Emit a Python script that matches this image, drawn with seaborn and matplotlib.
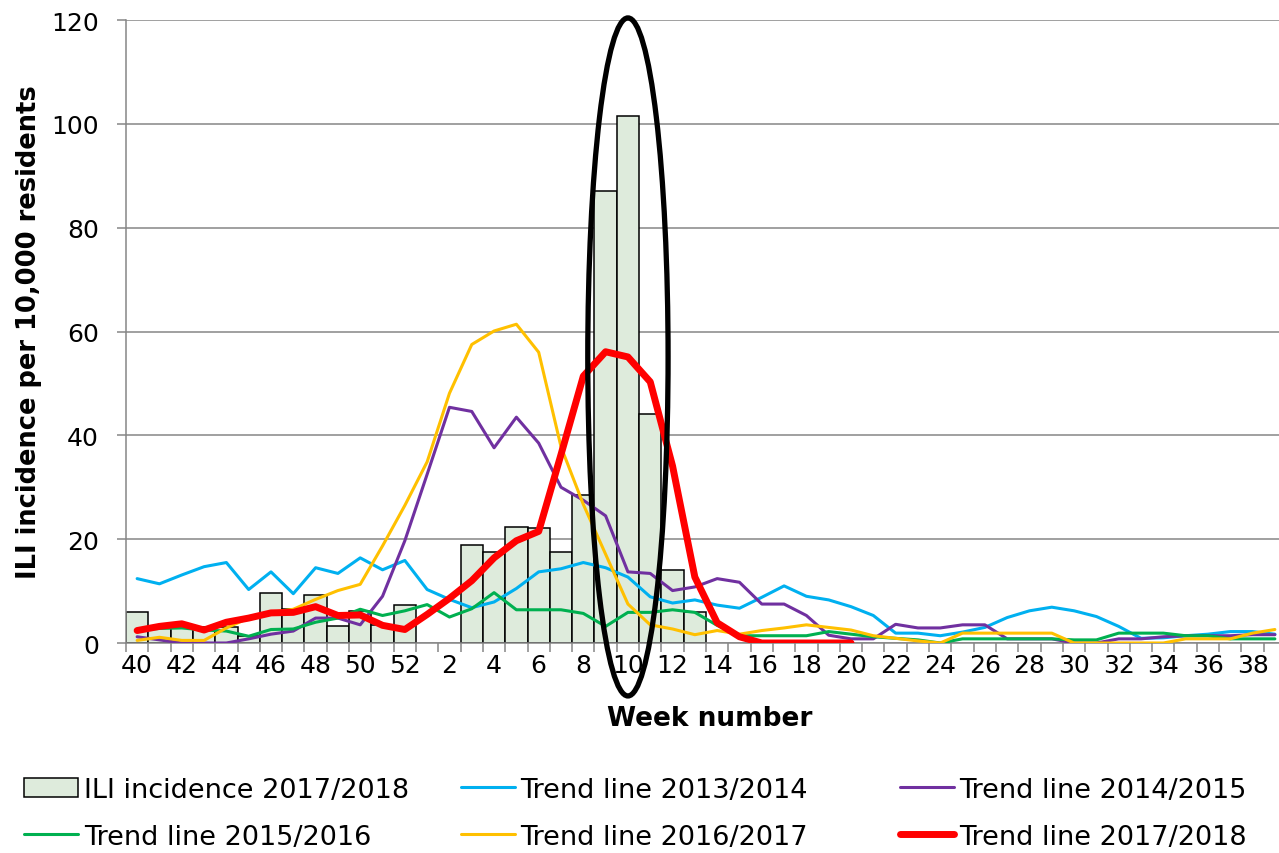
import numpy as np
import pandas as pd
import matplotlib
matplotlib.use('Agg')
import matplotlib.pyplot as plt
from matplotlib.patches import Ellipse, Patch
from matplotlib.lines import Line2D
import seaborn as sns

sns.set_theme(style="white")
plt.rcParams['font.family'] = ['DejaVu Sans']
plt.rcParams['text.color'] = 'black'
plt.rcParams['axes.labelcolor'] = 'black'
plt.rcParams['xtick.color'] = 'black'
plt.rcParams['ytick.color'] = 'black'

# Season weeks: 40..52 then 1..39
weeks = [str(w) for w in list(range(40, 53)) + list(range(1, 40))]
nan = np.nan

# Bars: ILI incidence 2017/2018 (per 10,000 residents)
ili_2017_18 = [6.0, 2.8, 2.8, 3.1, 3.0, 1.3, 9.7, 6.5, 9.2, 3.2, 6.1, 3.5, 7.3,
               nan, nan, 18.9, 17.6, 22.4, 22.1, 17.6, 28.6, 87.0, 101.6, 44.1, 14.1, 5.9] + [nan] * 26

trend_2013_14 = [12.4, 11.4, 13.1, 14.7, 15.5, 10.3, 13.7, 9.5, 14.5, 13.4, 16.4, 14.1, 15.9,
                 10.3, 8.4, 6.8, 7.9, 10.5, 13.7, 14.3, 15.5, 14.5, 12.7, 8.9, 7.7, 8.3,
                 7.3, 6.7, 8.8, 11.0, 9.0, 8.3, 7.0, 5.3, 1.9, 1.9, 1.4, 2.1, 3.0,
                 4.9, 6.2, 6.9, 6.2, 5.1, 3.2, 0.9, 1.0, 1.4, 1.7, 2.2, 2.2, 1.7]
trend_2014_15 = [1.2, 0.6, 0.0, 0.0, 0.0, 0.8, 1.7, 2.3, 4.8, 4.8, 3.5, 9.0, 19.7,
                 32.5, 45.4, 44.6, 37.6, 43.5, 38.5, 30.0, 27.5, 24.5, 13.7, 13.4, 10.1, 10.8,
                 12.4, 11.7, 7.5, 7.5, 5.3, 1.5, 0.8, 0.8, 3.6, 2.9, 2.9, 3.5, 3.5,
                 0.8, 0.8, 0.8, 0.0, 0.0, 0.8, 0.8, 1.2, 1.4, 1.4, 1.4, 1.6, 1.6]
trend_2015_16 = [2.5, 2.8, 2.9, 2.5, 2.3, 1.3, 2.6, 2.7, 4.0, 4.8, 6.5, 5.3, 6.2,
                 7.4, 5.0, 6.6, 9.7, 6.4, 6.4, 6.4, 5.7, 3.2, 5.9, 5.9, 6.4, 5.9,
                 3.4, 1.4, 1.4, 1.4, 1.4, 2.2, 1.7, 1.2, 0.9, 0.6, 0.0, 0.8, 0.8,
                 0.8, 0.8, 0.8, 0.6, 0.6, 1.9, 1.9, 1.9, 1.4, 1.4, 0.8, 0.8, 0.8]
trend_2016_17 = [0.5, 1.1, 0.5, 0.5, 2.9, 4.8, 5.9, 6.5, 8.4, 10.1, 11.3, 18.7, 26.5,
                 34.9, 48.1, 57.5, 60.1, 61.4, 56.0, 37.8, 26.7, 17.1, 7.5, 3.5, 2.7, 1.6,
                 2.4, 1.7, 2.4, 2.9, 3.5, 3.0, 2.5, 1.4, 0.9, 0.4, 0.0, 1.9, 1.9,
                 1.9, 1.9, 1.9, 0.0, 0.0, 0.0, 0.0, 0.0, 0.8, 0.8, 0.8, 1.9, 2.6]
trend_2017_18 = [2.4, 3.2, 3.7, 2.5, 4.0, 4.8, 5.8, 5.9, 7.0, 5.3, 5.4, 3.4, 2.6,
                 5.5, 8.6, 12.0, 16.4, 19.7, 21.5, 36.3, 51.4, 56.1, 55.1, 50.3, 34.1, 12.7,
                 3.9, 1.2, 0.0, 0.0, 0.0, 0.0, 0.0] + [nan] * 19

series = [
    ('Trend line 2013/2014', trend_2013_14, '#00B0F0', 2.2),
    ('Trend line 2014/2015', trend_2014_15, '#7030A0', 2.2),
    ('Trend line 2015/2016', trend_2015_16, '#00B050', 2.2),
    ('Trend line 2016/2017', trend_2016_17, '#FFC000', 2.2),
    ('Trend line 2017/2018', trend_2017_18, '#FF0000', 5.0),
]
bar_fill = '#DEEBDC'
grid_col = '#868686'

fig = plt.figure(figsize=(12.79, 8.54), dpi=100)
ax = fig.add_axes([0.0985, 0.2459, 0.9070, 0.7295])

bar_df = pd.DataFrame({'week': weeks, 'value': ili_2017_18}).dropna()
sns.barplot(data=bar_df, x='week', y='value', order=weeks, color=bar_fill,
            saturation=1, edgecolor='black', linewidth=1.1, width=1.0, ax=ax, zorder=2)

pos = np.arange(len(weeks))
for name, vals, col, lw in series:
    df = pd.DataFrame({'pos': pos, 'value': vals}).dropna()
    sns.lineplot(data=df, x='pos', y='value', color=col, lw=lw, ax=ax,
                 legend=False, zorder=3)

# the ellipse around the peak weeks
ax.add_patch(Ellipse((22, 55.1), width=3.6, height=130.6, fill=False,
                     ec='black', lw=3.8, clip_on=False, zorder=10))

ax.set_xlim(-0.5, len(weeks) - 0.5)
ax.set_ylim(0, 120)
ax.set_yticks(range(0, 121, 20))
ax.set_xticks(pos[::2])
ax.set_xticklabels(weeks[::2])
ax.set_xticks(np.arange(-0.5, len(weeks), 1), minor=True)

ax.tick_params(axis='y', which='major', left=True, length=6.5, width=1.1,
               color=grid_col, pad=13, labelsize=18, labelcolor='black')
ax.tick_params(axis='x', which='major', bottom=False, length=0, pad=7,
               labelsize=18, labelcolor='black')
ax.tick_params(axis='x', which='minor', bottom=True, length=6.5, width=1.1,
               color=grid_col)

for s in ['top', 'right']:
    ax.spines[s].set_visible(False)
for s in ['left', 'bottom']:
    ax.spines[s].set_color(grid_col)
    ax.spines[s].set_linewidth(1.1)
ax.yaxis.grid(True, color=grid_col, lw=1.1)
ax.xaxis.grid(False)
ax.set_axisbelow(True)

ax.set_ylabel('ILI incidence per 10,000 residents', fontsize=18.5, fontweight='bold')
ax.yaxis.set_label_coords(-0.072, 0.5)
ax.set_xlabel('Week number', fontsize=19, fontweight='bold')
ax.xaxis.set_label_coords(0.503, -0.099)

# legend in three fixed columns, two rows
bar_h = Patch(facecolor=bar_fill, edgecolor='black', linewidth=1.1)
line_h = {name: Line2D([0], [0], color=col, lw=lw) for name, _, col, lw in series}
columns = [
    ([bar_h, line_h['Trend line 2015/2016']], ['ILI incidence 2017/2018', 'Trend line 2015/2016']),
    ([line_h['Trend line 2013/2014'], line_h['Trend line 2016/2017']], ['Trend line 2013/2014', 'Trend line 2016/2017']),
    ([line_h['Trend line 2014/2015'], line_h['Trend line 2017/2018']], ['Trend line 2014/2015', 'Trend line 2017/2018']),
]
col_x = [0.0188, 0.3604, 0.7037]
for (hs, ls), x in zip(columns, col_x):
    fig.legend(hs, ls, loc='center left', bbox_to_anchor=(x, 0.0465), frameon=False,
               fontsize=19.5, handlelength=2.0, handletextpad=0.2, labelspacing=0.78,
               borderpad=0, borderaxespad=0)

fig.savefig('out.png', dpi=100)
